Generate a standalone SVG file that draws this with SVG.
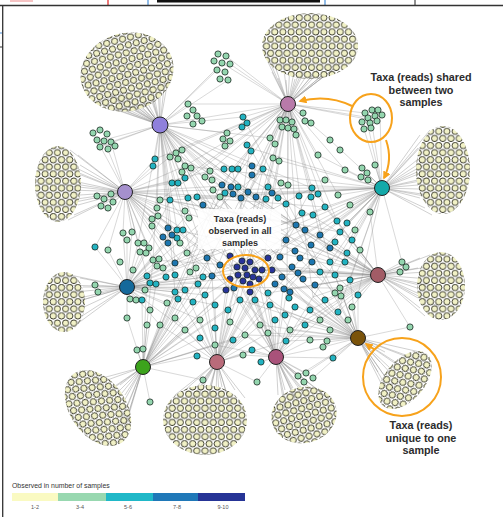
<svg xmlns="http://www.w3.org/2000/svg" width="503" height="517" viewBox="0 0 503 517">
<style>
.e{fill:none;stroke:#8a8a8a;stroke-width:.55;stroke-opacity:.6;stroke-linejoin:round}
.f{fill:none;stroke:#999;stroke-width:.55;stroke-opacity:.85;stroke-linejoin:round}
.n circle{stroke:#1b2a22;stroke-width:.8}
.a circle{fill:#94d6af}.b circle{fill:#22b3c2}.c circle{fill:#1d76b0}.d circle{fill:#28349a}
.hub{stroke:#222;stroke-width:1}
.o{fill:none;stroke:#f7a21b;stroke-width:2}
.t{font-family:"Liberation Sans",Arial,sans-serif;font-weight:bold;fill:#2c2c2c;text-anchor:middle}
.lg{font-family:"Liberation Sans",Arial,sans-serif;fill:#555;text-anchor:middle;font-size:5.5px}
</style>
<defs>
<pattern id="pp" patternUnits="userSpaceOnUse" width="8.2" height="14.2">
<g fill="#f1f1c6" stroke="#2b2b1f" stroke-width=".9">
<circle cx="4.1" cy="3.55" r="3.15"/><circle cx="0" cy="10.65" r="3.15"/><circle cx="8.2" cy="10.65" r="3.15"/>
</g>
</pattern>
<marker id="ah" viewBox="0 0 10 10" refX="8" refY="5" markerWidth="4" markerHeight="4" orient="auto"><path d="M0,0L10,5L0,10z" fill="#f7a21b"/></marker>
</defs>
<rect width="503" height="517" fill="#fff"/>
<g id="page-edge">
<rect x="10" y="0" width="23" height="2" fill="#f6c4c4"/>
<rect x="157" y="0" width="163" height="2.5" fill="#111"/>
<path d="M108 0V5" stroke="#e02020" stroke-width="1.2"/>
<path d="M148 0V5M325 0V5" stroke="#4a90d8" stroke-width="1.2"/>
<path d="M415 0V5" stroke="#222" stroke-width="1"/>
<path d="M0 33H2" stroke="#4a90d8" stroke-width="1.2"/>
<path d="M0 47H3" stroke="#333" stroke-width="1"/>
<path d="M0 5.5H503M2.7 5V517" stroke="#333" stroke-width="1.3" fill="none"/>
</g>
<g id="connectors">
<path class="f" d="M160 125L85 65M160 125L88 80M160 125L92 92M160 125L98 100M160 125L105 106M160 125L113 108M160 125L122 109M160 125L132 106M160 125L142 102M160 125L150 96M160 125L158 88M160 125L165 78M160 125L170 68M160 125L100 70M160 125L115 80M160 125L130 85M160 125L145 75M160 125L120 55M160 125L140 50M160 125L105 50M160 125L160 55M160 125L95 88M160 125L110 95M160 125L125 98M160 125L137 94M160 125L152 86"/>
<path class="f" d="M288 104L265 50M288 104L268 62M288 104L272 72M288 104L278 78M288 104L286 80M288 104L295 79M288 104L305 78M288 104L315 76M288 104L325 73M288 104L335 68M288 104L345 60M288 104L352 50M288 104L290 60M288 104L310 60M288 104L330 55M288 104L300 40M288 104L280 35M288 104L320 30M288 104L275 66M288 104L300 70M288 104L320 66M288 104L340 64"/>
<path class="f" d="M382 188L420 135M382 188L418 148M382 188L417 160M382 188L417 172M382 188L418 185M382 188L420 198M382 188L425 208M382 188L432 215M382 188L440 150M382 188L440 175M382 188L445 200M382 188L430 130M382 188L455 160M382 188L455 190M382 188L425 142M382 188L424 165M382 188L426 180M382 188L428 195"/>
<path class="f" d="M125 192L78 155M125 192L80 165M125 192L81 175M125 192L81 185M125 192L80 195M125 192L78 205M125 192L74 215M125 192L68 220M125 192L60 160M125 192L60 185M125 192L60 205M125 192L45 175M125 192L70 150M125 192L72 170M125 192L72 190M125 192L70 200"/>
<path class="f" d="M378 275L420 258M378 275L418 268M378 275L417 278M378 275L417 288M378 275L418 298M378 275L420 308M378 275L425 316M378 275L440 265M378 275L440 290M378 275L445 310M378 275L430 255M378 275L426 272M378 275L428 285M378 275L428 298"/>
<path class="f" d="M127 287L80 278M127 287L83 287M127 287L84 297M127 287L84 307M127 287L82 316M127 287L77 324M127 287L65 285M127 287L65 305M127 287L70 275M127 287L75 292M127 287L75 302"/>
<path class="f" d="M358 338L385 352M358 338L380 362M358 338L378 372M358 338L382 385M358 338L390 393M358 338L400 365M358 338L410 358M358 338L420 352M358 338L395 378M358 338L412 375M358 338L400 398M358 338L425 362M358 338L390 368M358 338L386 378"/>
<path class="f" d="M143 367L120 385M143 367L125 395M143 367L128 405M143 367L128 415M143 367L125 428M143 367L115 435M143 367L100 420M143 367L90 405M143 367L80 390M143 367L110 400M143 367L95 380M143 367L120 440M143 367L112 388M143 367L118 412"/>
<path class="f" d="M217 362L175 395M217 362L185 390M217 362L197 387M217 362L210 386M217 362L222 387M217 362L235 390M217 362L245 398M217 362L190 410M217 362L205 410M217 362L220 410M217 362L235 420M217 362L180 420M217 362L200 435M217 362L215 430M217 362L192 398M217 362L228 398"/>
<path class="f" d="M276 357L278 395M276 357L285 390M276 357L293 388M276 357L302 388M276 357L312 390M276 357L322 393M276 357L330 400M276 357L285 410M276 357L300 410M276 357L315 410M276 357L290 425M276 357L310 425M276 357L295 398M276 357L310 400"/>
<path class="e" d="M160 125L188 104M160 125L202 118M160 125L243 117M160 125L227 133M160 125L175 153M160 125L155 159M160 125L185 166M160 125L210 171M160 125L232 169M160 125L183 179M160 125L220 186M160 125L248 193M160 125L170 200M160 125L157 208M160 125L185 217M160 125L177 230M160 125L168 242M160 125L138 243M160 125L153 260M160 125L175 263M160 125L212 276M160 125L245 268M160 125L262 270M160 125L227 288M160 125L270 138M160 125L288 185M160 125L296 225M160 125L312 188M160 125L104 140M160 125L100 147M160 125L111 142M160 125L222 63M160 125L217 70M160 125L228 80M160 125L198 283M160 125L175 292M160 125L345 262M160 125L335 293M160 125L320 320M160 125L290 330M160 125L352 240M160 125L358 295"/>
<path class="e" d="M288 104L280 120M288 104L292 122M288 104L303 113M288 104L311 123M288 104L296 135M288 104L270 138M288 104L243 117M288 104L250 148M288 104L227 133M288 104L202 118M288 104L188 104M288 104L263 169M288 104L232 169M288 104L272 195M288 104L248 193M288 104L288 185M288 104L312 188M288 104L325 207M288 104L337 221M288 104L296 225M288 104L320 235M288 104L330 262M288 104L262 270M288 104L245 268M288 104L210 171M288 104L185 166M288 104L183 179M288 104L175 153M288 104L330 140M288 104L345 170M288 104L318 155M288 104L338 195M288 104L222 63M288 104L226 56M288 104L230 64M288 104L371 118M288 104L365 113M288 104L377 121M288 104L287 289M288 104L313 297M288 104L220 186M288 104L155 159M288 104L175 263M288 104L198 283M288 104L205 295M288 104L240 300M288 104L228 310M288 104L160 200"/>
<path class="e" d="M382 188L371 118M382 188L365 113M382 188L380 115M382 188L364 129M382 188L362 168M382 188L367 173M382 188L361 177M382 188L375 165M382 188L345 170M382 188L338 195M382 188L325 207M382 188L337 221M382 188L347 223M382 188L340 232M382 188L352 240M382 188L330 262M382 188L335 275M382 188L320 235M382 188L296 225M382 188L312 188M382 188L288 185M382 188L272 195M382 188L262 270M382 188L245 268M382 188L313 297M382 188L287 289M382 188L358 295M382 188L350 280M382 188L330 140M382 188L318 155M382 188L278 160M382 188L250 148M382 188L248 193M382 188L370 212M382 188L402 262M382 188L310 245M382 188L283 288M382 188L338 312M382 188L185 166M382 188L197 197M382 188L170 200M382 188L212 276M382 188L175 263M382 188L205 295"/>
<path class="e" d="M125 192L97 196M125 192L104 199M125 192L111 194M125 192L101 206M125 192L108 208M125 192L113 202M125 192L104 140M125 192L93 133M125 192L111 142M125 192L155 159M125 192L153 166M125 192L170 157M125 192L185 166M125 192L172 183M125 192L183 179M125 192L170 200M125 192L157 208M125 192L152 219M125 192L185 217M125 192L168 242M125 192L177 230M125 192L123 233M125 192L132 232M125 192L138 243M125 192L149 248M125 192L153 260M125 192L175 263M125 192L212 276M125 192L220 265M125 192L245 268M125 192L198 283M125 192L220 186M125 192L210 171M125 192L240 197M125 192L185 290M125 192L147 276M125 192L95 247M125 192L108 250M125 192L340 232M125 192L312 188M125 192L330 262M125 192L296 225M125 192L325 207M125 192L286 341M125 192L305 325"/>
<path class="e" d="M127 287L95 285M127 287L98 292M127 287L130 299M127 287L136 300M127 287L95 247M127 287L108 250M127 287L123 233M127 287L132 232M127 287L127 240M127 287L138 243M127 287L149 248M127 287L140 252M127 287L153 260M127 287L157 266M127 287L147 276M127 287L156 284M127 287L166 277M127 287L175 292M127 287L178 299M127 287L167 303M127 287L175 263M127 287L168 242M127 287L185 290M127 287L205 295M127 287L212 276M127 287L198 283M127 287L226 289M127 287L245 268M127 287L262 270M127 287L200 320M127 287L185 330M127 287L160 325M127 287L127 318M127 287L142 300M127 287L177 230M127 287L185 217M127 287L170 200M127 287L215 305M127 287L325 207M127 287L296 225M127 287L312 188M127 287L288 185M127 287L263 169M127 287L340 288M127 287L320 272"/>
<path class="e" d="M378 275L402 262M378 275L406 267M378 275L400 272M378 275L340 288M378 275L335 293M378 275L341 296M378 275L352 307M378 275L358 295M378 275L350 280M378 275L335 275M378 275L345 262M378 275L330 262M378 275L347 253M378 275L352 240M378 275L340 232M378 275L335 242M378 275L320 235M378 275L296 225M378 275L310 245M378 275L292 267M378 275L302 278M378 275L315 285M378 275L313 297M378 275L287 289M378 275L262 270M378 275L255 270M378 275L245 268M378 275L325 300M378 275L310 310M378 275L338 312M378 275L320 320M378 275L305 325M378 275L290 330M378 275L337 221M378 275L325 207M378 275L312 188M378 275L370 212M378 275L410 327M378 275L268 293M378 275L175 153M378 275L185 166M378 275L170 200M378 275L177 230M378 275L153 260M378 275L197 197M378 275L210 171"/>
<path class="e" d="M358 338L410 327M358 338L352 307M358 338L338 312M358 338L348 320M358 338L330 330M358 338L320 320M358 338L323 347M358 338L327 342M358 338L333 358M358 338L305 325M358 338L310 340M358 338L290 330M358 338L286 341M358 338L268 333M358 338L310 310M358 338L325 300M358 338L313 297M358 338L295 305M358 338L287 289M358 338L283 288M358 338L262 270M358 338L270 305M358 338L255 300M358 338L245 335M358 338L340 288M358 338L358 295M358 338L350 280M358 338L335 275M358 338L330 262M358 338L315 285M358 338L306 373M358 338L313 378M358 338L298 376M358 338L260 325M358 338L240 300M358 338L213 190M358 338L220 197M358 338L188 198M358 338L243 117M358 338L250 148M358 338L202 205"/>
<path class="e" d="M143 367L137 350M143 367L143 349M143 367L150 402M143 367L127 318M143 367L142 300M143 367L160 325M143 367L147 325M143 367L167 303M143 367L175 292M143 367L178 299M143 367L185 330M143 367L200 320M143 367L175 318M143 367L185 290M143 367L205 295M143 367L215 305M143 367L228 310M143 367L197 356M143 367L215 345M143 367L200 338M143 367L156 284M143 367L147 276M143 367L153 260M143 367L198 283M143 367L212 276M143 367L226 289M143 367L240 300M143 367L233 340M143 367L245 335M143 367L203 380M143 367L250 148M143 367L263 169M143 367L232 169M143 367L220 186M143 367L296 225"/>
<path class="e" d="M217 362L203 380M217 362L197 356M217 362L215 345M217 362L200 338M217 362L233 340M217 362L245 335M217 362L243 355M217 362L252 350M217 362L257 382M217 362L185 330M217 362L200 320M217 362L215 328M217 362L230 322M217 362L228 310M217 362L215 305M217 362L205 295M217 362L240 300M217 362L255 300M217 362L260 325M217 362L268 333M217 362L226 289M217 362L245 268M217 362L212 276M217 362L198 283M217 362L185 290M217 362L175 318M217 362L262 270M217 362L270 305M217 362L286 341M217 362L160 325M217 362L175 292M217 362L263 169M217 362L250 148M217 362L296 225M217 362L312 188M217 362L320 235"/>
<path class="e" d="M276 357L298 376M276 357L306 373M276 357L313 378M276 357L304 382M276 357L257 382M276 357L261 362M276 357L252 350M276 357L243 355M276 357L268 333M276 357L286 341M276 357L260 325M276 357L275 320M276 357L290 330M276 357L305 325M276 357L310 340M276 357L323 347M276 357L333 358M276 357L320 320M276 357L295 305M276 357L270 305M276 357L255 300M276 357L287 289M276 357L283 288M276 357L262 270M276 357L245 268M276 357L250 292M276 357L230 322M276 357L245 335M276 357L215 345M276 357L313 297M276 357L310 310M276 357L240 300M276 357L185 166M276 357L220 186M276 357L232 169M276 357L196 197M276 357L170 200"/>
</g>
<g id="unique-taxa" fill="url(#pp)">
<ellipse cx="127" cy="72" rx="47" ry="39" transform="rotate(-15 127 72)"/>
<ellipse cx="310" cy="46" rx="48" ry="33"/>
<ellipse cx="443" cy="170" rx="27" ry="44"/>
<ellipse cx="58" cy="184" rx="23" ry="38"/>
<ellipse cx="441" cy="286" rx="24" ry="34"/>
<ellipse cx="64" cy="302" rx="21" ry="30"/>
<ellipse cx="405" cy="380" rx="34" ry="20" transform="rotate(-50 405 380)"/>
<ellipse cx="98" cy="408" rx="42" ry="28" transform="rotate(55 98 408)"/>
<ellipse cx="205" cy="420" rx="42" ry="35"/>
<ellipse cx="304" cy="415" rx="33" ry="28" transform="rotate(-15 304 415)"/>
</g>
<g id="shared-taxa" class="n">
<g id="taxa-3-4" class="a">
<circle cx="218" cy="54" r="3.1"/><circle cx="226" cy="56" r="3.1"/><circle cx="214" cy="61" r="3.1"/><circle cx="222" cy="63" r="3.1"/><circle cx="230" cy="64" r="3.1"/><circle cx="217" cy="70" r="3.1"/><circle cx="225" cy="72" r="3.1"/><circle cx="220" cy="79" r="3.1"/><circle cx="228" cy="80" r="3.1"/>
<circle cx="93" cy="133" r="3.1"/><circle cx="100" cy="130" r="3.1"/><circle cx="107" cy="134" r="3.1"/><circle cx="97" cy="140" r="3.1"/><circle cx="104" cy="141" r="3.1"/><circle cx="111" cy="142" r="3.1"/><circle cx="100" cy="147" r="3.1"/><circle cx="108" cy="149" r="3.1"/><circle cx="115" cy="146" r="3.1"/>
<circle cx="280" cy="120" r="3.1"/><circle cx="286" cy="120" r="3.1"/><circle cx="292" cy="122" r="3.1"/><circle cx="282" cy="127" r="3.1"/><circle cx="288" cy="128" r="3.1"/><circle cx="294" cy="129" r="3.1"/><circle cx="296" cy="135" r="3.1"/><circle cx="303" cy="113" r="3.1"/><circle cx="305" cy="121" r="3.1"/><circle cx="311" cy="123" r="3.1"/>
<circle cx="365" cy="113" r="3.1"/><circle cx="372" cy="110" r="3.1"/><circle cx="378" cy="110" r="3.1"/><circle cx="375" cy="116" r="3.1"/><circle cx="368" cy="118" r="3.1"/><circle cx="362" cy="122" r="3.1"/><circle cx="370" cy="123" r="3.1"/><circle cx="377" cy="121" r="3.1"/><circle cx="382" cy="115" r="3.1"/><circle cx="364" cy="129" r="3.1"/><circle cx="371" cy="128" r="3.1"/>
<circle cx="362" cy="168" r="3.1"/><circle cx="367" cy="173" r="3.1"/><circle cx="361" cy="177" r="3.1"/><circle cx="368" cy="180" r="3.1"/><circle cx="375" cy="165" r="3.1"/>
<circle cx="97" cy="196" r="3.1"/><circle cx="104" cy="199" r="3.1"/><circle cx="111" cy="194" r="3.1"/><circle cx="101" cy="206" r="3.1"/><circle cx="108" cy="208" r="3.1"/><circle cx="113" cy="202" r="3.1"/>
<circle cx="95" cy="285" r="3.1"/><circle cx="98" cy="292" r="3.1"/><circle cx="130" cy="299" r="3.1"/><circle cx="136" cy="300" r="3.1"/>
<circle cx="402" cy="262" r="3.1"/><circle cx="406" cy="267" r="3.1"/><circle cx="400" cy="272" r="3.1"/>
<circle cx="137" cy="350" r="3.1"/><circle cx="143" cy="349" r="3.1"/><circle cx="150" cy="402" r="3.1"/>
<circle cx="298" cy="376" r="3.1"/><circle cx="306" cy="373" r="3.1"/><circle cx="313" cy="378" r="3.1"/><circle cx="304" cy="382" r="3.1"/>
<circle cx="188" cy="104" r="3.1"/><circle cx="193" cy="110" r="3.1"/><circle cx="187" cy="116" r="3.1"/><circle cx="197" cy="116" r="3.1"/><circle cx="202" cy="121" r="3.1"/><circle cx="193" cy="124" r="3.1"/><circle cx="227" cy="133" r="3.1"/><circle cx="223" cy="139" r="3.1"/><circle cx="230" cy="141" r="3.1"/><circle cx="225" cy="146" r="3.1"/><circle cx="270" cy="138" r="3.1"/><circle cx="275" cy="144" r="3.1"/><circle cx="273" cy="158" r="3.1"/><circle cx="279" cy="161" r="3.1"/><circle cx="170" cy="157" r="3.1"/><circle cx="176" cy="153" r="3.1"/><circle cx="182" cy="150" r="3.1"/><circle cx="178" cy="159" r="3.1"/><circle cx="185" cy="166" r="3.1"/><circle cx="191" cy="168" r="3.1"/><circle cx="182" cy="172" r="3.1"/><circle cx="210" cy="171" r="3.1"/><circle cx="205" cy="177" r="3.1"/><circle cx="212" cy="180" r="3.1"/><circle cx="213" cy="190" r="3.1"/><circle cx="220" cy="197" r="3.1"/><circle cx="157" cy="208" r="3.1"/><circle cx="158" cy="216" r="3.1"/><circle cx="152" cy="219" r="3.1"/><circle cx="185" cy="211" r="3.1"/><circle cx="189" cy="218" r="3.1"/><circle cx="160" cy="200" r="3.1"/><circle cx="152" cy="226" r="3.1"/><circle cx="123" cy="233" r="3.1"/><circle cx="132" cy="232" r="3.1"/><circle cx="127" cy="240" r="3.1"/><circle cx="108" cy="250" r="3.1"/><circle cx="138" cy="243" r="3.1"/><circle cx="144" cy="243" r="3.1"/><circle cx="149" cy="248" r="3.1"/><circle cx="140" cy="252" r="3.1"/><circle cx="146" cy="253" r="3.1"/><circle cx="153" cy="260" r="3.1"/><circle cx="159" cy="259" r="3.1"/><circle cx="157" cy="266" r="3.1"/><circle cx="163" cy="268" r="3.1"/><circle cx="167" cy="303" r="3.1"/><circle cx="127" cy="318" r="3.1"/><circle cx="340" cy="288" r="3.1"/><circle cx="335" cy="293" r="3.1"/><circle cx="341" cy="296" r="3.1"/><circle cx="352" cy="307" r="3.1"/><circle cx="410" cy="327" r="3.1"/><circle cx="245" cy="335" r="3.1"/><circle cx="243" cy="355" r="3.1"/><circle cx="257" cy="382" r="3.1"/><circle cx="203" cy="380" r="3.1"/><circle cx="268" cy="333" r="3.1"/><circle cx="323" cy="347" r="3.1"/><circle cx="327" cy="341" r="3.1"/><circle cx="288" cy="185" r="3.1"/><circle cx="281" cy="183" r="3.1"/><circle cx="330" cy="140" r="3.1"/><circle cx="340" cy="150" r="3.1"/><circle cx="318" cy="155" r="3.1"/><circle cx="345" cy="170" r="3.1"/><circle cx="325" cy="180" r="3.1"/><circle cx="338" cy="195" r="3.1"/><circle cx="350" cy="205" r="3.1"/><circle cx="370" cy="212" r="3.1"/><circle cx="187" cy="253" r="3.1"/><circle cx="190" cy="272" r="3.1"/><circle cx="196" cy="268" r="3.1"/><circle cx="180" cy="243" r="3.1"/><circle cx="200" cy="320" r="3.1"/><circle cx="230" cy="322" r="3.1"/><circle cx="260" cy="325" r="3.1"/><circle cx="290" cy="330" r="3.1"/><circle cx="320" cy="320" r="3.1"/><circle cx="175" cy="318" r="3.1"/><circle cx="185" cy="330" r="3.1"/><circle cx="215" cy="345" r="3.1"/><circle cx="310" cy="340" r="3.1"/><circle cx="160" cy="325" r="3.1"/><circle cx="147" cy="325" r="3.1"/><circle cx="133" cy="270" r="3.1"/><circle cx="120" cy="262" r="3.1"/><circle cx="145" cy="290" r="3.1"/><circle cx="150" cy="310" r="3.1"/><circle cx="355" cy="230" r="3.1"/><circle cx="360" cy="250" r="3.1"/><circle cx="348" cy="320" r="3.1"/><circle cx="330" cy="330" r="3.1"/>
</g>
<g id="taxa-5-6" class="b">
<circle cx="243" cy="117" r="3.1"/><circle cx="247" cy="123" r="3.1"/><circle cx="242" cy="127" r="3.1"/><circle cx="247" cy="145" r="3.1"/><circle cx="251" cy="151" r="3.1"/><circle cx="155" cy="159" r="3.1"/><circle cx="153" cy="166" r="3.1"/><circle cx="232" cy="169" r="3.1"/><circle cx="238" cy="169" r="3.1"/><circle cx="224" cy="169" r="3.1"/><circle cx="263" cy="169" r="3.1"/><circle cx="172" cy="183" r="3.1"/><circle cx="178" cy="183" r="3.1"/><circle cx="185" cy="178" r="3.1"/><circle cx="188" cy="198" r="3.1"/><circle cx="197" cy="197" r="3.1"/><circle cx="238" cy="187" r="3.1"/><circle cx="268" cy="187" r="3.1"/><circle cx="225" cy="193" r="3.1"/><circle cx="266" cy="199" r="3.1"/><circle cx="278" cy="198" r="3.1"/><circle cx="286" cy="204" r="3.1"/><circle cx="312" cy="188" r="3.1"/><circle cx="318" cy="194" r="3.1"/><circle cx="311" cy="197" r="3.1"/><circle cx="325" cy="207" r="3.1"/><circle cx="337" cy="221" r="3.1"/><circle cx="347" cy="223" r="3.1"/><circle cx="170" cy="200" r="3.1"/><circle cx="177" cy="230" r="3.1"/><circle cx="177" cy="238" r="3.1"/><circle cx="95" cy="247" r="3.1"/><circle cx="147" cy="276" r="3.1"/><circle cx="150" cy="283" r="3.1"/><circle cx="156" cy="284" r="3.1"/><circle cx="166" cy="277" r="3.1"/><circle cx="175" cy="292" r="3.1"/><circle cx="178" cy="299" r="3.1"/><circle cx="335" cy="242" r="3.1"/><circle cx="347" cy="253" r="3.1"/><circle cx="338" cy="312" r="3.1"/><circle cx="252" cy="350" r="3.1"/><circle cx="261" cy="362" r="3.1"/><circle cx="197" cy="356" r="3.1"/><circle cx="286" cy="341" r="3.1"/><circle cx="333" cy="358" r="3.1"/><circle cx="302" cy="213" r="3.1"/><circle cx="313" cy="215" r="3.1"/><circle cx="183" cy="230" r="3.1"/><circle cx="203" cy="277" r="3.1"/><circle cx="198" cy="284" r="3.1"/><circle cx="268" cy="293" r="3.1"/><circle cx="289" cy="298" r="3.1"/><circle cx="340" cy="232" r="3.1"/><circle cx="352" cy="240" r="3.1"/><circle cx="345" cy="262" r="3.1"/><circle cx="330" cy="262" r="3.1"/><circle cx="335" cy="275" r="3.1"/><circle cx="350" cy="280" r="3.1"/><circle cx="358" cy="295" r="3.1"/><circle cx="325" cy="300" r="3.1"/><circle cx="310" cy="310" r="3.1"/><circle cx="295" cy="307" r="3.1"/><circle cx="285" cy="315" r="3.1"/><circle cx="270" cy="305" r="3.1"/><circle cx="255" cy="300" r="3.1"/><circle cx="240" cy="300" r="3.1"/><circle cx="228" cy="310" r="3.1"/><circle cx="215" cy="305" r="3.1"/><circle cx="205" cy="295" r="3.1"/><circle cx="193" cy="302" r="3.1"/><circle cx="185" cy="290" r="3.1"/><circle cx="175" cy="275" r="3.1"/><circle cx="215" cy="328" r="3.1"/><circle cx="275" cy="320" r="3.1"/><circle cx="305" cy="325" r="3.1"/><circle cx="200" cy="338" r="3.1"/><circle cx="233" cy="340" r="3.1"/><circle cx="320" cy="272" r="3.1"/><circle cx="142" cy="300" r="3.1"/><circle cx="299" cy="196" r="3.1"/>
</g>
<g id="taxa-7-8" class="c">
<circle cx="252" cy="166" r="3.1"/><circle cx="252" cy="175" r="3.1"/><circle cx="222" cy="185" r="3.1"/><circle cx="231" cy="187" r="3.1"/><circle cx="233" cy="194" r="3.1"/><circle cx="241" cy="198" r="3.1"/><circle cx="248" cy="192" r="3.1"/><circle cx="256" cy="197" r="3.1"/><circle cx="272" cy="193" r="3.1"/><circle cx="203" cy="205" r="3.1"/><circle cx="168" cy="228" r="3.1"/><circle cx="172" cy="235" r="3.1"/><circle cx="163" cy="237" r="3.1"/><circle cx="168" cy="243" r="3.1"/><circle cx="175" cy="263" r="3.1"/><circle cx="296" cy="225" r="3.1"/><circle cx="305" cy="230" r="3.1"/><circle cx="320" cy="235" r="3.1"/><circle cx="330" cy="248" r="3.1"/><circle cx="311" cy="245" r="3.1"/><circle cx="295" cy="251" r="3.1"/><circle cx="286" cy="240" r="3.1"/><circle cx="220" cy="265" r="3.1"/><circle cx="212" cy="276" r="3.1"/><circle cx="234" cy="288" r="3.1"/><circle cx="280" cy="257" r="3.1"/><circle cx="282" cy="277" r="3.1"/><circle cx="275" cy="284" r="3.1"/><circle cx="284" cy="289" r="3.1"/><circle cx="292" cy="267" r="3.1"/><circle cx="298" cy="273" r="3.1"/><circle cx="303" cy="279" r="3.1"/><circle cx="315" cy="285" r="3.1"/><circle cx="290" cy="292" r="3.1"/><circle cx="207" cy="258" r="3.1"/><circle cx="300" cy="258" r="3.1"/><circle cx="312" cy="262" r="3.1"/>
</g>
<g id="taxa-9-10" class="d">
<circle cx="242" cy="261" r="3.1"/><circle cx="250" cy="262" r="3.1"/><circle cx="237" cy="267" r="3.1"/><circle cx="245" cy="268" r="3.1"/><circle cx="255" cy="270" r="3.1"/><circle cx="262" cy="270" r="3.1"/><circle cx="238" cy="275" r="3.1"/><circle cx="247" cy="275" r="3.1"/><circle cx="253" cy="277" r="3.1"/><circle cx="259" cy="279" r="3.1"/><circle cx="243" cy="281" r="3.1"/><circle cx="250" cy="284" r="3.1"/><circle cx="226" cy="290" r="3.1"/><circle cx="250" cy="292" r="3.1"/><circle cx="230" cy="256" r="3.1"/><circle cx="268" cy="258" r="3.1"/><circle cx="272" cy="270" r="3.1"/><circle cx="230" cy="279" r="3.1"/>
</g>
</g>
<g id="sample-1"><circle class="hub" cx="160" cy="125" r="8" fill="#8f80dc"/></g>
<g id="sample-2"><circle class="hub" cx="288" cy="104" r="7.5" fill="#b87aa9"/></g>
<g id="sample-3"><circle class="hub" cx="382" cy="188" r="7.5" fill="#14a9a9"/></g>
<g id="sample-4"><circle class="hub" cx="125" cy="192" r="7.5" fill="#a590cd"/></g>
<g id="sample-5"><circle class="hub" cx="127" cy="287" r="7.5" fill="#15699b"/></g>
<g id="sample-6"><circle class="hub" cx="378" cy="275" r="7.5" fill="#a25c66"/></g>
<g id="sample-7"><circle class="hub" cx="358" cy="338" r="7.5" fill="#7a530a"/></g>
<g id="sample-8"><circle class="hub" cx="143" cy="367" r="7.5" fill="#3ca31c"/></g>
<g id="sample-9"><circle class="hub" cx="217" cy="362" r="7.5" fill="#b96b7a"/></g>
<g id="sample-10"><circle class="hub" cx="276" cy="357" r="7.5" fill="#a9527a"/></g>
<g id="annotations">
<ellipse class="o" cx="371" cy="118" rx="21" ry="24"/>
<path class="o" d="M352 106Q328 94 300 101" marker-end="url(#ah)"/>
<path class="o" d="M386 140Q393 160 384 178" marker-end="url(#ah)"/>
<ellipse class="o" cx="246" cy="271" rx="23" ry="16" stroke-width="2.5"/>
<circle class="o" cx="402" cy="377" r="39"/>
<path class="o" d="M375 350L366 344" marker-end="url(#ah)" stroke-width="2.5"/>
<text class="t" font-size="10.8"><tspan x="421" y="81">Taxa (reads) shared</tspan><tspan x="421" y="93.5">between two</tspan><tspan x="421" y="106">samples</tspan></text>
<rect x="198" y="209" width="83" height="40" fill="#fff" fill-opacity=".88"/>
<text class="t" font-size="9"><tspan x="240" y="222">Taxa (reads)</tspan><tspan x="240" y="234">observed in all</tspan><tspan x="240" y="246">samples</tspan></text>
<text class="t" font-size="10.8"><tspan x="421" y="429">Taxa (reads)</tspan><tspan x="421" y="442">unique to one</tspan><tspan x="421" y="454">sample</tspan></text>
</g>
<g id="legend">
<text x="12" y="488" font-family="Liberation Sans, Arial, sans-serif" font-size="6.9" fill="#333">Observed in number of samples</text>
<rect x="12" y="493" width="46" height="8" fill="#fafac2"/>
<rect x="58" y="493" width="48" height="8" fill="#98d8b0"/>
<rect x="106" y="493" width="47" height="8" fill="#20b8c8"/>
<rect x="153" y="493" width="45" height="8" fill="#1f78b8"/>
<rect x="198" y="493" width="47" height="8" fill="#263496"/>
<text class="lg" x="35" y="509">1-2</text>
<text class="lg" x="80" y="509">3-4</text>
<text class="lg" x="128" y="509">5-6</text>
<text class="lg" x="177" y="509">7-8</text>
<text class="lg" x="223" y="509">9-10</text>
</g>
</svg>
